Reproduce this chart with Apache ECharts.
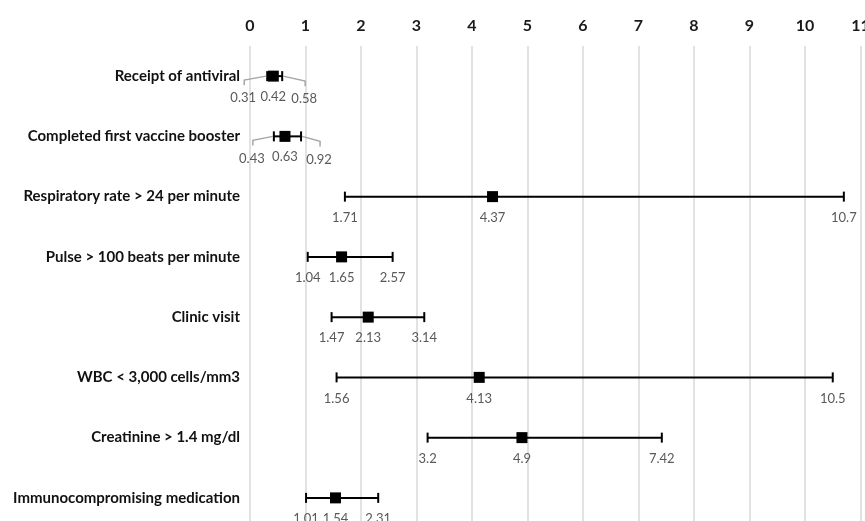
<!DOCTYPE html>
<html><head><meta charset="utf-8">
<script src="https://cdn.jsdelivr.net/npm/echarts@6/dist/echarts.min.js"></script>
<style>html,body{margin:0;padding:0;background:#fff}#c{width:865px;height:521px}</style>
</head><body><div id="c"></div>
<script>
const categories = [
  'Receipt of antiviral',
  'Completed first vaccine booster',
  'Respiratory rate > 24 per minute',
  'Pulse > 100 beats per minute',
  'Clinic visit',
  'WBC < 3,000 cells/mm3',
  'Creatinine > 1.4 mg/dl',
  'Immunocompromising medication'
];
const lower    = [0.31, 0.43, 1.71, 1.04, 1.47, 1.56, 3.2, 1.01];
const estimate = [0.42, 0.63, 4.37, 1.65, 2.13, 4.13, 4.9, 1.54];
const upper    = [0.58, 0.92, 10.7, 2.57, 3.14, 10.5, 7.42, 2.31];
const xTickMin = 0, xTickMax = 11, xTickStep = 1;

const FONT = 'Lato, "Open Sans", sans-serif';
// label displacement for rows whose interval labels would overlap (styling only)
const callouts = { 0: { lo: -24, hi: 22 }, 1: { lo: -22, hi: 18 } };

const chart = echarts.init(document.getElementById('c'));
const rows = categories.map((c, i) => [i, lower[i], estimate[i], upper[i]]);

function txt(s, x, y) {
  return { type: 'text', z2: 5, style: { text: s, x: x, y: y, align: 'center', verticalAlign: 'middle',
    fill: '#595959', fontSize: 13, fontFamily: FONT } };
}

chart.setOption({
  animation: false,
  backgroundColor: '#fff',
  grid: { left: 250, width: 610.5, top: 46, height: 482, containLabel: false, outerBoundsMode: 'none' },
  xAxis: {
    type: 'value', position: 'top', min: xTickMin, max: xTickMax, interval: xTickStep,
    axisLine: { show: false }, axisTick: { show: false },
    axisLabel: { margin: 12, color: '#1a1a1a', fontWeight: 'bold', fontSize: 16, fontFamily: FONT },
    splitLine: { show: true, lineStyle: { color: '#d9d9d9', width: 1.5 } }
  },
  yAxis: {
    type: 'category', inverse: true, data: categories,
    axisLine: { show: false }, axisTick: { show: false }, splitLine: { show: false },
    axisLabel: { margin: 10, color: '#111', fontWeight: 'bold', fontSize: 15, fontFamily: FONT }
  },
  series: [
    {
      type: 'custom', data: rows, encode: { x: [1, 2, 3], y: 0 }, z: 2,
      renderItem: function (params, api) {
        const i = api.value(0);
        const lo = api.coord([api.value(1), i]);
        const md = api.coord([api.value(2), i]);
        const hi = api.coord([api.value(3), i]);
        const y = lo[1];
        const ls = { stroke: '#000', lineWidth: 2 };
        const ch = [
          { type: 'line', shape: { x1: lo[0], y1: y, x2: hi[0], y2: y }, style: ls },
          { type: 'line', shape: { x1: lo[0], y1: y - 5, x2: lo[0], y2: y + 5 }, style: ls },
          { type: 'line', shape: { x1: hi[0], y1: y - 5, x2: hi[0], y2: y + 5 }, style: ls }
        ];
        const co = callouts[i];
        const sLo = String(api.value(1)), sMd = String(api.value(2)), sHi = String(api.value(3));
        if (co) {
          const xl = lo[0] + co.lo, xh = hi[0] + co.hi;
          const gs = { stroke: '#a6a6a6', lineWidth: 1.5, fill: null };
          ch.push({ type: 'polyline', shape: { points: [[lo[0] - 1, y], [xl + 1, y + 4], [xl + 1, y + 9]] }, style: gs });
          ch.push({ type: 'polyline', shape: { points: [[hi[0] + 1, y], [xh + 1, y + 5], [xh + 1, y + 10]] }, style: gs });
          ch.push(txt(sLo, xl, y + 22));
          ch.push(txt(sMd, md[0], y + 20.5));
          ch.push(txt(sHi, xh, y + 23));
        } else {
          ch.push(txt(sLo, lo[0], y + 21));
          ch.push(txt(sMd, md[0], y + 21));
          ch.push(txt(sHi, hi[0], y + 21));
        }
        return { type: 'group', children: ch };
      }
    },
    {
      type: 'scatter', z: 3, symbol: 'rect', symbolSize: 11,
      itemStyle: { color: '#000', opacity: 1 },
      data: estimate.map((v, i) => [v, i])
    }
  ]
});
</script></body></html>
